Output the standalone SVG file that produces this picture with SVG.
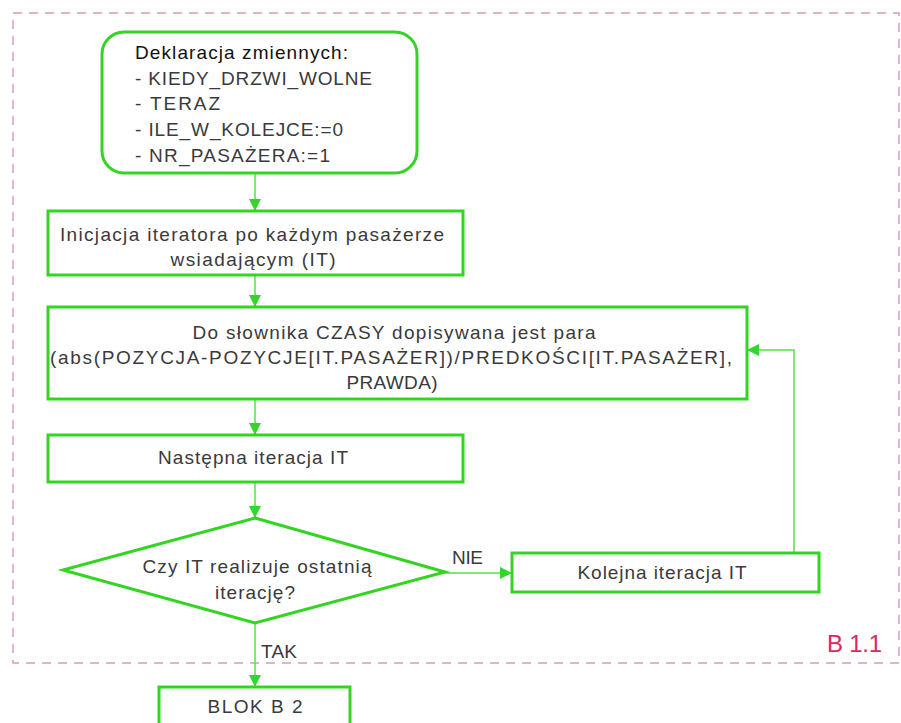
<svg xmlns="http://www.w3.org/2000/svg" width="901" height="723" viewBox="0 0 901 723">
<defs>
<marker id="ah" viewBox="0 0 12 12" refX="12" refY="6" markerWidth="12" markerHeight="12" markerUnits="userSpaceOnUse" orient="auto">
<path d="M0,0 L12,6 L0,12 Z" fill="#2fd82a"/>
</marker>
<style>
.box{fill:#fff;stroke:#33d422;stroke-width:3}
.t{font-family:"Liberation Sans",Arial,sans-serif;font-size:19px;fill:#3a3a3a}
.c{text-anchor:middle}
.line{fill:none;stroke:#55e04a;stroke-width:1.5;marker-end:url(#ah)}
</style>
</defs>
<rect width="901" height="723" fill="#fff"/>
<g id="frame">
<rect x="13" y="13" width="886" height="650" fill="none" stroke="#d99bbf" stroke-width="1.5" stroke-dasharray="9,7"/>
<text x="827" y="652" font-family="Liberation Sans,Arial,sans-serif" font-size="24" fill="#e0265a" textLength="55" lengthAdjust="spacing">B 1.1</text>
</g>
<g id="connectors">
<path class="line" d="M255,173 V211"/>
<path class="line" d="M255,275 V307"/>
<path class="line" d="M255,399 V435"/>
<path class="line" d="M255,482 V518"/>
<path class="line" d="M445,573 H512"/>
<path class="line" d="M794,553 V350 H747"/>
<path class="line" d="M255,623 V687"/>
<text class="t" x="452" y="564" textLength="31" lengthAdjust="spacing">NIE</text>
<text class="t" x="261" y="658" textLength="36" lengthAdjust="spacing">TAK</text>
</g>
<g id="decl">
<rect class="box" x="102" y="32" width="315" height="141" rx="22"/>
<text class="t" x="135" y="59" style="fill:#111" textLength="213" lengthAdjust="spacing">Deklaracja zmiennych:</text>
<text class="t" x="135" y="85" textLength="237" lengthAdjust="spacing">- KIEDY_DRZWI_WOLNE</text>
<text class="t" x="135" y="110" textLength="85" lengthAdjust="spacing">- TERAZ</text>
<text class="t" x="135" y="136" textLength="208" lengthAdjust="spacing">- ILE_W_KOLEJCE:=0</text>
<text class="t" x="135" y="162" textLength="195" lengthAdjust="spacing">- NR_PASAŻERA:=1</text>
</g>
<g id="init">
<rect class="box" x="48" y="211" width="415" height="64"/>
<text class="t c" x="252" y="241" textLength="384" lengthAdjust="spacing">Inicjacja iteratora po każdym pasażerze</text>
<text class="t c" x="253" y="266" textLength="165" lengthAdjust="spacing">wsiadającym (IT)</text>
</g>
<g id="dict">
<rect class="box" x="48" y="307" width="699" height="92"/>
<text class="t c" x="394" y="339" textLength="403" lengthAdjust="spacing">Do słownika CZASY dopisywana jest para</text>
<text class="t c" x="391" y="364" textLength="682" lengthAdjust="spacing">(abs(POZYCJA-POZYCJE[IT.PASAŻER])/PREDKOŚCI[IT.PASAŻER],</text>
<text class="t c" x="392" y="389" textLength="91" lengthAdjust="spacing">PRAWDA)</text>
</g>
<g id="next">
<rect class="box" x="48" y="435" width="415" height="47"/>
<text class="t c" x="253" y="464" textLength="190" lengthAdjust="spacing">Następna iteracja IT</text>
</g>
<g id="decision">
<polygon class="box" points="255,518 445,572 255,623 63,570"/>
<text class="t c" x="257" y="573" textLength="229" lengthAdjust="spacing">Czy IT realizuje ostatnią</text>
<text class="t c" x="255" y="599" textLength="80" lengthAdjust="spacing">iterację?</text>
</g>
<g id="kolejna">
<rect class="box" x="512" y="553" width="307" height="39"/>
<text class="t c" x="662" y="579" textLength="169" lengthAdjust="spacing">Kolejna iteracja IT</text>
</g>
<g id="blok">
<rect class="box" x="159" y="687" width="191" height="40"/>
<text class="t c" x="255" y="713" textLength="95" lengthAdjust="spacing">BLOK B 2</text>
</g>
</svg>
